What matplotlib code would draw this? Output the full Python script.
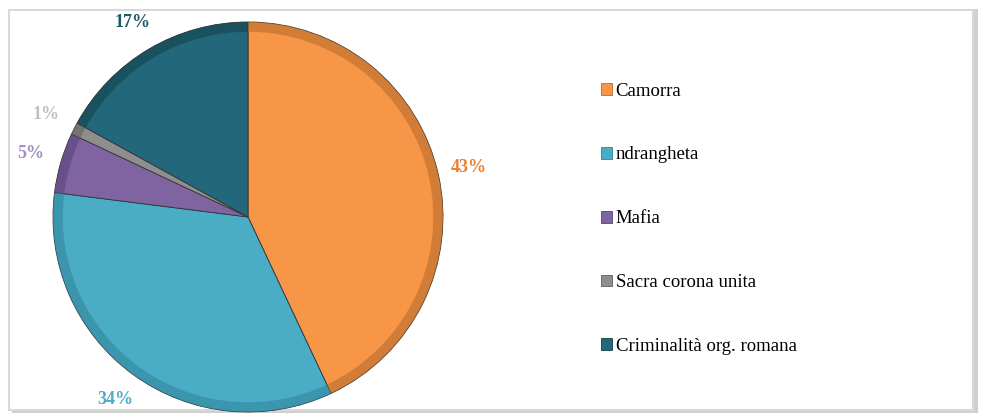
import numpy as np
import matplotlib.pyplot as plt
from matplotlib.patches import Rectangle, Patch

# Quote per tipo di organizzazione criminale
labels = ["Camorra", "ndrangheta", "Mafia", "Sacra corona unita", "Criminalità org. romana"]
values = [43, 34, 5, 1, 17]

colors = ["#F79646", "#4BACC6", "#8064A2", "#8E8E8E", "#23687A"]
edge_colors = ["#B56A2C", "#2F8399", "#564377", "#5E5E5E", "#123F4A"]
pct_colors = ["#F07C2E", "#4BACC6", "#A28FC6", "#BFBFBF", "#215968"]

plt.rcParams['font.family'] = ['Liberation Serif', 'DejaVu Serif']

W, H = 983, 419
fig = plt.figure(figsize=(W / 100, H / 100), dpi=100)

# cornice con ombra
fig.patches.append(Rectangle((12 / W, 6 / H), 966 / W, 404 / H, transform=fig.transFigure,
                             facecolor="#D0D0D0", edgecolor="none", zorder=0))
fig.patches.append(Rectangle((9 / W, 9 / H), 964 / W, 400 / H, transform=fig.transFigure,
                             facecolor="white", edgecolor="#D9D9D9", linewidth=1.5, zorder=0))

# torta: centro (248, 217) px, raggio 195 px
cx, cy, r = 248, H - 217, 195
half = 210
ax = fig.add_axes([(cx - half) / W, (cy - half) / H, 2 * half / W, 2 * half / H])
ax.set_zorder(2)
ax.patch.set_alpha(0)

wedges, _, autotexts = ax.pie(values, colors=colors, startangle=90, counterclock=False,
                              autopct="%d%%", pctdistance=1.16, radius=1.0,
                              wedgeprops=dict(edgecolor="#333333", linewidth=0.6),
                              textprops=dict(fontsize=13, fontweight="bold"))
for t, c in zip(autotexts, pct_colors):
    t.set_color(c)

# bordo smussato: anello più scuro sul perimetro
ax.pie(values, colors=edge_colors, startangle=90, counterclock=False, radius=1.0,
       wedgeprops=dict(width=0.05, edgecolor="none", alpha=0.55))

# pie() reimposta i limiti, quindi vanno fissati dopo
ax.set_xlim(-half / r, half / r)
ax.set_ylim(-half / r, half / r)
ax.set_aspect("equal")
ax.axis("off")

handles = [Patch(facecolor=c, edgecolor=e, linewidth=0.6) for c, e in zip(colors, edge_colors)]
leg = fig.legend(handles, labels, loc="upper left", bbox_to_anchor=(593 / W, 1 - 75 / H),
                 frameon=False, fontsize=13.5, handlelength=0.6, handleheight=0.6,
                 handletextpad=0.2, labelspacing=2.5, borderaxespad=0)
leg.set_zorder(3)

fig.savefig("out.png", dpi=100)
